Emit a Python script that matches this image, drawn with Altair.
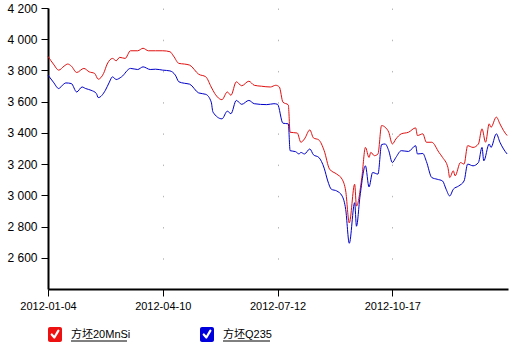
import altair as alt
import pandas as pd

# ---- data (trading-day index, price) ----
series_names = ["方坯20MnSi", "方坯Q235"]
series_colors = ["#e01010", "#0000c8"]
box_colors = ["#ee1111", "#0000dd"]

tick_days = [0, 64, 128, 192]
tick_labels = ["2012-01-04", "2012-04-10", "2012-07-12", "2012-10-17"]

red_days = [0, 3, 6, 9, 11, 13, 16, 20, 23, 26, 28, 31, 33, 36, 38, 40, 43, 46, 50, 53, 56, 60, 64,
            68, 70, 73, 76, 79, 84, 88, 91, 93, 97, 100, 102, 105, 108, 112, 115, 119, 124, 127, 129,
            131, 134, 135, 139, 141, 143, 146, 148, 151, 154, 157, 161, 164, 166, 168, 171, 172, 175,
            177, 179, 180, 182, 184, 186, 188, 190, 192, 194, 197, 201, 205, 206, 209, 211, 214, 218,
            220, 223, 224, 226, 227, 230, 232, 234, 237, 240, 242, 244, 246, 247, 250, 252, 254, 256]
red_vals = [3890, 3841, 3802, 3828, 3841, 3828, 3787, 3813, 3791, 3781, 3744, 3781, 3841, 3877, 3862,
            3884, 3877, 3926, 3926, 3942, 3926, 3926, 3926,
            3920, 3892, 3845, 3841, 3834, 3776, 3759, 3694, 3652, 3613, 3662, 3641, 3727, 3702, 3731,
            3705, 3699, 3694, 3705, 3694,
            3597, 3579, 3404, 3399, 3340, 3361, 3419, 3368, 3355, 3286, 3168, 3136, 3103, 3028, 2823,
            3071, 2931, 3114,
            3307, 3243, 3275, 3254, 3265, 3447, 3436, 3404, 3329, 3361, 3394, 3404, 3432, 3383, 3394,
            3340, 3340, 3275,
            3243, 3178, 3114, 3157, 3125, 3210, 3200, 3318, 3307, 3329, 3426, 3340, 3458, 3436, 3501,
            3458, 3415, 3383]

blue_days = [0, 3, 6, 8, 10, 13, 16, 19, 21, 24, 27, 28, 32, 34, 36, 38, 41, 46, 50, 53, 57, 60, 64,
             68, 71, 73, 76, 79, 84, 88, 91, 92, 97, 100, 102, 105, 108, 112, 115, 122, 126, 128,
             131, 134, 135, 138, 140, 141, 143, 146, 148, 151, 154, 156, 158, 161, 164, 166, 168, 171,
             172, 174, 177, 179, 181, 184, 186, 188, 190, 192, 194, 197, 201, 205, 206, 209, 211, 214,
             217, 220, 222, 224, 226, 229, 232, 234, 237, 240, 242, 243, 246, 247, 250, 252, 254, 256]
blue_vals = [3770, 3725, 3684, 3705, 3720, 3716, 3662, 3694, 3684, 3673, 3652, 3626, 3673, 3720, 3759,
             3742, 3759, 3813, 3806, 3823, 3806, 3808, 3802,
             3797, 3770, 3727, 3718, 3712, 3656, 3647, 3598, 3533, 3490, 3539, 3523, 3608, 3583, 3608,
             3587, 3581, 3587, 3583,
             3462, 3458, 3286, 3280, 3265, 3275, 3265, 3297, 3260, 3243, 3174, 3092, 3039, 3028, 2996,
             2910, 2693, 2953,
             2802, 2996, 3189, 3054, 3146, 3136, 3325, 3329, 3286, 3210, 3243, 3286, 3281, 3318, 3265,
             3268, 3217, 3114,
             3103, 3092, 3039, 2996, 3039, 3060, 3092, 3200, 3189, 3210, 3307, 3221, 3329, 3307, 3394,
             3340, 3297, 3265]

y_ticks = [2600, 2800, 3000, 3200, 3400, 3600, 3800, 4000, 4200]

df = pd.concat([
    pd.DataFrame({"day": red_days, "value": red_vals, "series": series_names[0]}),
    pd.DataFrame({"day": blue_days, "value": blue_vals, "series": series_names[1]}),
])

label_expr = " : ".join(
    f"datum.value == {d} ? '{l}'" for d, l in zip(tick_days, tick_labels)
) + " : ''"

FONT = "Liberation Sans, Arial, Noto Sans CJK SC"

lines = alt.Chart(df).mark_line(strokeWidth=1, interpolate="monotone").encode(
    x=alt.X("day:Q",
            scale=alt.Scale(domain=[0, 256.5], nice=False, zero=False),
            axis=alt.Axis(values=tick_days, labelExpr=label_expr, title=None,
                          grid=True, gridDash=[1.5, 29.72], gridColor="#b8b8b8", gridWidth=1,
                          domainColor="black", domainWidth=2, tickColor="black", tickSize=7,
                          tickWidth=1, labelColor="black", labelFont=FONT, labelFontSize=11,
                          labelPadding=4, labelFlush=False, labelOverlap=False)),
    y=alt.Y("value:Q",
            scale=alt.Scale(domain=[2400, 4200], nice=False, zero=False),
            axis=alt.Axis(values=y_ticks, labelExpr="replace(format(datum.value, ','), ',', ' ')",
                          title=None, grid=False, domainColor="black", domainWidth=2,
                          tickColor="black", tickSize=7, tickWidth=1, labelColor="black",
                          labelFont=FONT, labelFontSize=12, labelPadding=4, labelFlush=False,
                          labelOverlap=False)),
    color=alt.Color("series:N", scale=alt.Scale(domain=series_names, range=series_colors),
                    legend=None),
    order="day:Q",
)

# ---- custom checkbox legend below the axis ----
CHECK = "M -0.6 0.0 L -0.12 0.55 L 0.62 -0.7"
legend_x0 = [0, 152]
label_widths = [56, 47]
layers = [lines]
for i, name in enumerate(series_names):
    x0 = legend_x0[i]
    base = alt.Chart(pd.DataFrame({"name": [name]}))
    layers.append(base.mark_rect(color=box_colors[i], cornerRadius=2).encode(
        x=alt.value(x0), x2=alt.value(x0 + 14), y=alt.value(319), y2=alt.value(334)))
    layers.append(base.mark_point(shape=CHECK, filled=False, stroke="white", strokeWidth=2.2,
                                  size=120, opacity=1, strokeCap="round", strokeJoin="round").encode(
        x=alt.value(x0 + 7), y=alt.value(326.5)))
    layers.append(base.mark_text(align="left", baseline="alphabetic", fontSize=11, font=FONT,
                                 color="black").encode(
        x=alt.value(x0 + 23), y=alt.value(330), text="name:N"))
    layers.append(base.mark_rule(color="black", strokeWidth=1).encode(
        x=alt.value(x0 + 23), x2=alt.value(x0 + 23 + label_widths[i]), y=alt.value(333)))

chart = alt.layer(*layers).properties(
    width=460, height=281,
    autosize=alt.AutoSizeParams(type="none"),
    padding={"left": 48, "top": 8, "right": 17, "bottom": 57},
    background="white",
).configure_view(stroke=None)

chart.save("out.html", embed_options={"renderer": "svg", "actions": False})
